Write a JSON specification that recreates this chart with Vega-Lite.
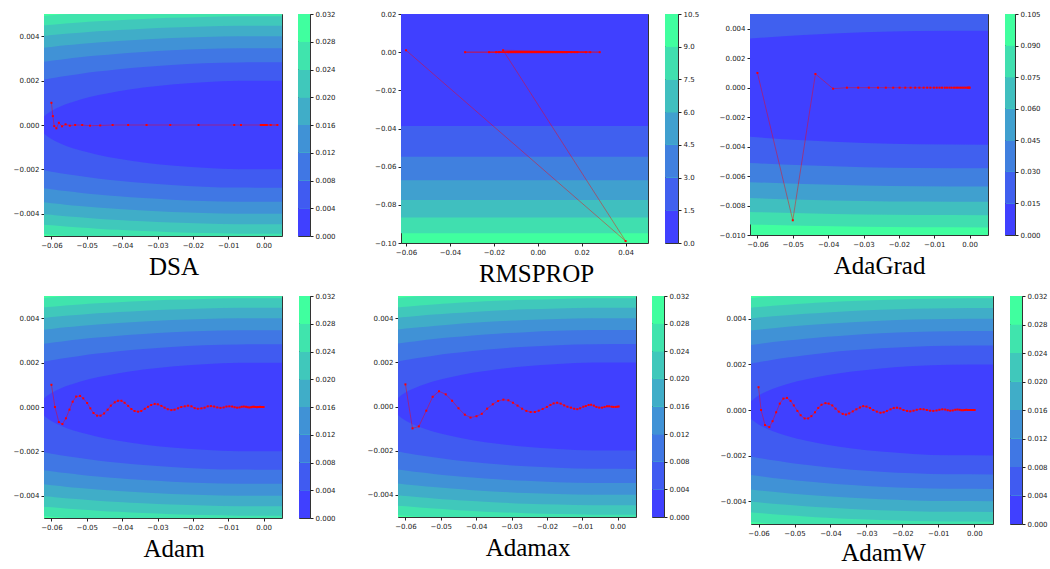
{
"$schema": "https://vega.github.io/schema/vega-lite/v6.json",
"padding": {"left": 12, "top": 9, "right": 0, "bottom": 0},
"background": "white",
"config": {
  "view": {"fill": "#40FF9F", "stroke": "#333333", "strokeWidth": 1},
  "axis": {"labelFont": "DejaVu Sans", "labelFontSize": 7, "labelColor": "#222222", "tickColor": "#222222", "tickSize": 3, "labelPadding": 2, "domain": false, "grid": false, "labelFlush": false, "labelOverlap": false, "labelBound": false},
  "title": {"font": "Liberation Serif", "fontSize": 25, "fontWeight": "normal", "color": "#000000", "offset": 6, "orient": "bottom", "frame": "bounds", "anchor": "middle"},
  "concat": {"spacing": 14}
},
"datasets": {
  "ell": [
    {"x":-0.0621,"o":-1,"y":0.006,"lo":-0.006},{"x":0.0052,"o":-1,"y":0.006,"lo":-0.006},
    {"x":-0.0621,"o":0,"y":0.004914,"lo":-0.004914},{"x":-0.061,"o":0,"y":0.004927,"lo":-0.004927},{"x":-0.059,"o":0,"y":0.004952,"lo":-0.004952},{"x":-0.056,"o":0,"y":0.004986,"lo":-0.004986},{"x":-0.052,"o":0,"y":0.00503,"lo":-0.00503},{"x":-0.047,"o":0,"y":0.005078,"lo":-0.005078},{"x":-0.041,"o":0,"y":0.00513,"lo":-0.00513},{"x":-0.034,"o":0,"y":0.005181,"lo":-0.005181},{"x":-0.026,"o":0,"y":0.005227,"lo":-0.005227},{"x":-0.017,"o":0,"y":0.005264,"lo":-0.005264},{"x":-0.007,"o":0,"y":0.005287,"lo":-0.005287},{"x":0.0052,"o":0,"y":0.005289,"lo":-0.005289},
    {"x":-0.0621,"o":1,"y":0.004488,"lo":-0.004488},{"x":-0.061,"o":1,"y":0.004503,"lo":-0.004503},{"x":-0.059,"o":1,"y":0.00453,"lo":-0.00453},{"x":-0.056,"o":1,"y":0.004568,"lo":-0.004568},{"x":-0.052,"o":1,"y":0.004615,"lo":-0.004615},{"x":-0.047,"o":1,"y":0.004668,"lo":-0.004668},{"x":-0.041,"o":1,"y":0.004724,"lo":-0.004724},{"x":-0.034,"o":1,"y":0.00478,"lo":-0.00478},{"x":-0.026,"o":1,"y":0.00483,"lo":-0.00483},{"x":-0.017,"o":1,"y":0.004869,"lo":-0.004869},{"x":-0.007,"o":1,"y":0.004894,"lo":-0.004894},{"x":0.0052,"o":1,"y":0.004896,"lo":-0.004896},
    {"x":-0.0621,"o":2,"y":0.004018,"lo":-0.004018},{"x":-0.061,"o":2,"y":0.004035,"lo":-0.004035},{"x":-0.059,"o":2,"y":0.004064,"lo":-0.004064},{"x":-0.056,"o":2,"y":0.004107,"lo":-0.004107},{"x":-0.052,"o":2,"y":0.004159,"lo":-0.004159},{"x":-0.047,"o":2,"y":0.004218,"lo":-0.004218},{"x":-0.041,"o":2,"y":0.00428,"lo":-0.00428},{"x":-0.034,"o":2,"y":0.004341,"lo":-0.004341},{"x":-0.026,"o":2,"y":0.004396,"lo":-0.004396},{"x":-0.017,"o":2,"y":0.00444,"lo":-0.00444},{"x":-0.007,"o":2,"y":0.004467,"lo":-0.004467},{"x":0.0052,"o":2,"y":0.004469,"lo":-0.004469},
    {"x":-0.0621,"o":3,"y":0.003485,"lo":-0.003485},{"x":-0.061,"o":3,"y":0.003504,"lo":-0.003504},{"x":-0.059,"o":3,"y":0.003538,"lo":-0.003538},{"x":-0.056,"o":3,"y":0.003587,"lo":-0.003587},{"x":-0.052,"o":3,"y":0.003646,"lo":-0.003646},{"x":-0.047,"o":3,"y":0.003714,"lo":-0.003714},{"x":-0.041,"o":3,"y":0.003784,"lo":-0.003784},{"x":-0.034,"o":3,"y":0.003853,"lo":-0.003853},{"x":-0.026,"o":3,"y":0.003915,"lo":-0.003915},{"x":-0.017,"o":3,"y":0.003964,"lo":-0.003964},{"x":-0.007,"o":3,"y":0.003994,"lo":-0.003994},{"x":0.0052,"o":3,"y":0.003997,"lo":-0.003997},
    {"x":-0.0621,"o":4,"y":0.002854,"lo":-0.002854},{"x":-0.061,"o":4,"y":0.002877,"lo":-0.002877},{"x":-0.059,"o":4,"y":0.002919,"lo":-0.002919},{"x":-0.056,"o":4,"y":0.002977,"lo":-0.002977},{"x":-0.052,"o":4,"y":0.003049,"lo":-0.003049},{"x":-0.047,"o":4,"y":0.003129,"lo":-0.003129},{"x":-0.041,"o":4,"y":0.003212,"lo":-0.003212},{"x":-0.034,"o":4,"y":0.003293,"lo":-0.003293},{"x":-0.026,"o":4,"y":0.003365,"lo":-0.003365},{"x":-0.017,"o":4,"y":0.003422,"lo":-0.003422},{"x":-0.007,"o":4,"y":0.003457,"lo":-0.003457},{"x":0.0052,"o":4,"y":0.00346,"lo":-0.00346},
    {"x":-0.0621,"o":5,"y":0.002036,"lo":-0.002036},{"x":-0.061,"o":5,"y":0.002069,"lo":-0.002069},{"x":-0.059,"o":5,"y":0.002126,"lo":-0.002126},{"x":-0.056,"o":5,"y":0.002205,"lo":-0.002205},{"x":-0.052,"o":5,"y":0.002301,"lo":-0.002301},{"x":-0.047,"o":5,"y":0.002406,"lo":-0.002406},{"x":-0.041,"o":5,"y":0.002514,"lo":-0.002514},{"x":-0.034,"o":5,"y":0.002616,"lo":-0.002616},{"x":-0.026,"o":5,"y":0.002706,"lo":-0.002706},{"x":-0.017,"o":5,"y":0.002777,"lo":-0.002777},{"x":-0.007,"o":5,"y":0.00282,"lo":-0.00282},{"x":0.0052,"o":5,"y":0.002824,"lo":-0.002824},
    {"x":-0.0621,"o":6,"y":0.000379,"lo":-0.000379},{"x":-0.061,"o":6,"y":0.000528,"lo":-0.000528},{"x":-0.059,"o":6,"y":0.00072,"lo":-0.00072},{"x":-0.056,"o":6,"y":0.00093,"lo":-0.00093},{"x":-0.052,"o":6,"y":0.001138,"lo":-0.001138},{"x":-0.047,"o":6,"y":0.001338,"lo":-0.001338},{"x":-0.041,"o":6,"y":0.001523,"lo":-0.001523},{"x":-0.034,"o":6,"y":0.001686,"lo":-0.001686},{"x":-0.026,"o":6,"y":0.001823,"lo":-0.001823},{"x":-0.017,"o":6,"y":0.001926,"lo":-0.001926},{"x":-0.007,"o":6,"y":0.001988,"lo":-0.001988},{"x":0.0052,"o":6,"y":0.001993,"lo":-0.001993}
  ],
  "rmsc": [
    {"x":-0.0623,"o":0,"y":0.09487,"lo":-0.09487},{"x":0.0502,"o":0,"y":0.09487,"lo":-0.09487},
    {"x":-0.0623,"o":1,"y":0.0866,"lo":-0.0866},{"x":0.0502,"o":1,"y":0.0866,"lo":-0.0866},
    {"x":-0.0623,"o":2,"y":0.07746,"lo":-0.07746},{"x":0.0502,"o":2,"y":0.07746,"lo":-0.07746},
    {"x":-0.0623,"o":3,"y":0.06708,"lo":-0.06708},{"x":0.0502,"o":3,"y":0.06708,"lo":-0.06708},
    {"x":-0.0623,"o":4,"y":0.05477,"lo":-0.05477},{"x":0.0502,"o":4,"y":0.05477,"lo":-0.05477},
    {"x":-0.0623,"o":5,"y":0.03873,"lo":-0.03873},{"x":0.0502,"o":5,"y":0.03873,"lo":-0.03873}
  ],
  "adac": [
    {"x":-0.0621,"o":0,"y":0.009281,"lo":-0.009281},{"x":-0.047,"o":0,"y":0.00937,"lo":-0.00937},{"x":-0.03,"o":0,"y":0.009439,"lo":-0.009439},{"x":-0.015,"o":0,"y":0.009475,"lo":-0.009475},{"x":0.0052,"o":0,"y":0.009485,"lo":-0.009485},
    {"x":-0.0621,"o":1,"y":0.008435,"lo":-0.008435},{"x":-0.047,"o":1,"y":0.008532,"lo":-0.008532},{"x":-0.03,"o":1,"y":0.008608,"lo":-0.008608},{"x":-0.015,"o":1,"y":0.008647,"lo":-0.008647},{"x":0.0052,"o":1,"y":0.008659,"lo":-0.008659},
    {"x":-0.0621,"o":2,"y":0.007493,"lo":-0.007493},{"x":-0.047,"o":2,"y":0.007602,"lo":-0.007602},{"x":-0.03,"o":2,"y":0.007688,"lo":-0.007688},{"x":-0.015,"o":2,"y":0.007731,"lo":-0.007731},{"x":0.0052,"o":2,"y":0.007744,"lo":-0.007744},
    {"x":-0.0621,"o":3,"y":0.006414,"lo":-0.006414},{"x":-0.047,"o":3,"y":0.006541,"lo":-0.006541},{"x":-0.03,"o":3,"y":0.006641,"lo":-0.006641},{"x":-0.015,"o":3,"y":0.006691,"lo":-0.006691},{"x":0.0052,"o":3,"y":0.006706,"lo":-0.006706},
    {"x":-0.0621,"o":4,"y":0.005113,"lo":-0.005113},{"x":-0.047,"o":4,"y":0.005272,"lo":-0.005272},{"x":-0.03,"o":4,"y":0.005394,"lo":-0.005394},{"x":-0.015,"o":4,"y":0.005457,"lo":-0.005457},{"x":0.0052,"o":4,"y":0.005475,"lo":-0.005475},
    {"x":-0.0621,"o":5,"y":0.003338,"lo":-0.003338},{"x":-0.047,"o":5,"y":0.003576,"lo":-0.003576},{"x":-0.03,"o":5,"y":0.003755,"lo":-0.003755},{"x":-0.015,"o":5,"y":0.003844,"lo":-0.003844},{"x":0.0052,"o":5,"y":0.00387,"lo":-0.00387}
  ],
  "cb8": [{"lo":0,"hi":0.004,"b":0},{"lo":0.004,"hi":0.008,"b":1},{"lo":0.008,"hi":0.012,"b":2},{"lo":0.012,"hi":0.016,"b":3},{"lo":0.016,"hi":0.02,"b":4},{"lo":0.02,"hi":0.024,"b":5},{"lo":0.024,"hi":0.028,"b":6},{"lo":0.028,"hi":0.032,"b":7}],
  "cbr": [{"lo":0,"hi":1.5,"b":0},{"lo":1.5,"hi":3,"b":1},{"lo":3,"hi":4.5,"b":2},{"lo":4.5,"hi":6,"b":3},{"lo":6,"hi":7.5,"b":4},{"lo":7.5,"hi":9,"b":5},{"lo":9,"hi":10.5,"b":6}],
  "cba": [{"lo":0,"hi":0.015,"b":0},{"lo":0.015,"hi":0.03,"b":1},{"lo":0.03,"hi":0.045,"b":2},{"lo":0.045,"hi":0.06,"b":3},{"lo":0.06,"hi":0.075,"b":4},{"lo":0.075,"hi":0.09,"b":5},{"lo":0.09,"hi":0.105,"b":6}],
  "dsa": [{"x":-0.06,"y":0.001},{"x":-0.0596,"y":0.0004},{"x":-0.0592,"y":-0.00005},{"x":-0.0586,"y":-0.00015},{"x":-0.0579,"y":0.0001},{"x":-0.057,"y":-0.00006},{"x":-0.056,"y":0.00003},{"x":-0.0548,"y":-0.00003},{"x":-0.0533,"y":0},{"x":-0.0513,"y":0},{"x":-0.0491,"y":-0.00003},{"x":-0.0462,"y":-0.00002},{"x":-0.0427,"y":0},{"x":-0.0383,"y":0},{"x":-0.0331,"y":0},{"x":-0.0264,"y":0},{"x":-0.0184,"y":0},{"x":-0.0083,"y":0},{"x":-0.0064,"y":0},{"x":0.0039,"y":0},{"x":0.002,"y":0},{"x":-0.0008,"y":0},{"x":0.0009,"y":0},{"x":-0.0004,"y":0},{"x":0.0005,"y":0},{"x":-0.0002,"y":0},{"x":0.0002,"y":0},{"x":0,"y":0}],
  "rms": [{"x":-0.06,"y":0.001},{"x":0.04,"y":-0.099},{"x":-0.0158,"y":0.001},{"x":0.0282,"y":0},{"x":-0.0331,"y":0},{"x":0.0239,"y":0},{"x":-0.0222,"y":0},{"x":0.0219,"y":0},{"x":-0.019,"y":0},{"x":0.018,"y":0},{"x":-0.0177,"y":0},{"x":0.0168,"y":0},{"x":-0.0137,"y":0},{"x":0.0153,"y":0},{"x":0.0134,"y":0},{"x":-0.013,"y":0},{"x":0.0126,"y":0},{"x":-0.0122,"y":0},{"x":0.0118,"y":0},{"x":-0.0114,"y":0},{"x":0.011,"y":0},{"x":-0.0106,"y":0},{"x":0.0102,"y":0},{"x":-0.0098,"y":0},{"x":0.0094,"y":0},{"x":-0.009,"y":0},{"x":0.0086,"y":0},{"x":-0.0082,"y":0},{"x":0.0078,"y":0},{"x":-0.0074,"y":0},{"x":0.007,"y":0},{"x":-0.0066,"y":0},{"x":0.0062,"y":0},{"x":-0.0058,"y":0},{"x":0.0054,"y":0},{"x":-0.005,"y":0},{"x":0.0046,"y":0},{"x":-0.0042,"y":0},{"x":0.0038,"y":0},{"x":-0.0034,"y":0},{"x":0.003,"y":0},{"x":-0.0026,"y":0},{"x":0.0022,"y":0},{"x":-0.0018,"y":0},{"x":0.0014,"y":0},{"x":-0.001,"y":0},{"x":0.0006,"y":0},{"x":-0.0002,"y":0}],
  "ada": [{"x":-0.06,"y":0.001},{"x":-0.05,"y":-0.009},{"x":-0.0436,"y":0.00093},{"x":-0.0386,"y":-0.00007},{"x":-0.0347,"y":0},{"x":-0.0315,"y":0},{"x":-0.0285,"y":0},{"x":-0.0259,"y":0},{"x":-0.0237,"y":0},{"x":-0.0216,"y":0},{"x":-0.0198,"y":0},{"x":-0.0182,"y":0},{"x":-0.0167,"y":0},{"x":-0.0154,"y":0},{"x":-0.0142,"y":0},{"x":-0.013,"y":0},{"x":-0.012,"y":0},{"x":-0.0111,"y":0},{"x":-0.0101,"y":0},{"x":-0.0093,"y":0},{"x":-0.0085,"y":0},{"x":-0.0078,"y":0},{"x":-0.007,"y":0},{"x":-0.0064,"y":0},{"x":-0.0057,"y":0},{"x":-0.0051,"y":0},{"x":-0.0044,"y":0},{"x":-0.0038,"y":0},{"x":-0.0033,"y":0},{"x":-0.0027,"y":0},{"x":-0.0022,"y":0},{"x":-0.0017,"y":0},{"x":-0.0012,"y":0},{"x":-0.0007,"y":0},{"x":-0.0004,"y":0},{"x":-0.0001,"y":0},{"x":0,"y":0}],
  "adam": [{"x":-0.06,"y":0.001},{"x":-0.059,"y":0},{"x":-0.0579,"y":-0.00068},{"x":-0.0569,"y":-0.00077},{"x":-0.0559,"y":-0.00051},{"x":-0.0549,"y":-0.00012},{"x":-0.054,"y":0.00024},{"x":-0.053,"y":0.00047},{"x":-0.0519,"y":0.0005},{"x":-0.051,"y":0.00039},{"x":-0.0499,"y":0.00018},{"x":-0.049,"y":-0.00006},{"x":-0.0481,"y":-0.00027},{"x":-0.0471,"y":-0.00039},{"x":-0.0461,"y":-0.00039},{"x":-0.0451,"y":-0.00029},{"x":-0.0441,"y":-0.00012},{"x":-0.0432,"y":0.00006},{"x":-0.0421,"y":0.00021},{"x":-0.0412,"y":0.00028},{"x":-0.0402,"y":0.00028},{"x":-0.0393,"y":0.00019},{"x":-0.0383,"y":0.00005},{"x":-0.0374,"y":-0.00009},{"x":-0.0365,"y":-0.00018},{"x":-0.0355,"y":-0.00021},{"x":-0.0346,"y":-0.00018},{"x":-0.0336,"y":-0.00008},{"x":-0.0327,"y":0.00001},{"x":-0.0318,"y":0.00009},{"x":-0.0308,"y":0.00014},{"x":-0.0299,"y":0.00012},{"x":-0.0289,"y":0.00005},{"x":-0.028,"y":-0.00003},{"x":-0.0271,"y":-0.0001},{"x":-0.0261,"y":-0.00014},{"x":-0.0252,"y":-0.00012},{"x":-0.0242,"y":-0.00006},{"x":-0.0233,"y":0},{"x":-0.0223,"y":0.00003},{"x":-0.0214,"y":0.00006},{"x":-0.0204,"y":0.00003},{"x":-0.0195,"y":-0.00005},{"x":-0.0186,"y":-0.00008},{"x":-0.0176,"y":-0.00006},{"x":-0.0167,"y":-0.00003},{"x":-0.0158,"y":0.00003},{"x":-0.0149,"y":0.00004},{"x":-0.014,"y":0.00002},{"x":-0.0131,"y":-0.00002},{"x":-0.0122,"y":-0.00004},{"x":-0.0113,"y":-0.00002},{"x":-0.0105,"y":0.00002},{"x":-0.0097,"y":0.00003},{"x":-0.0089,"y":0.00002},{"x":-0.0082,"y":-0.00001},{"x":-0.0075,"y":-0.00003},{"x":-0.0068,"y":-0.00002},{"x":-0.0062,"y":0.00001},{"x":-0.0056,"y":0.00002},{"x":-0.005,"y":0.00001},{"x":-0.0045,"y":-0.00001},{"x":-0.004,"y":-0.00002},{"x":-0.0035,"y":-0.00001},{"x":-0.0031,"y":0.00001},{"x":-0.0027,"y":0.00001},{"x":-0.0023,"y":0},{"x":-0.0019,"y":-0.00001},{"x":-0.0016,"y":0},{"x":-0.0013,"y":0},{"x":-0.001,"y":0.00001},{"x":-0.0008,"y":0},{"x":-0.0006,"y":0},{"x":-0.0004,"y":0},{"x":-0.0002,"y":0},{"x":0,"y":0}],
  "adamax": [{"x":-0.06,"y":0.001},{"x":-0.058,"y":-0.00099},{"x":-0.0562,"y":-0.0009},{"x":-0.0541,"y":-0.00019},{"x":-0.0523,"y":0.00044},{"x":-0.0505,"y":0.00069},{"x":-0.0486,"y":0.00055},{"x":-0.0468,"y":0.00026},{"x":-0.045,"y":-0.00008},{"x":-0.0432,"y":-0.00037},{"x":-0.0416,"y":-0.0005},{"x":-0.0399,"y":-0.00044},{"x":-0.0384,"y":-0.00033},{"x":-0.0369,"y":-0.0001},{"x":-0.0353,"y":0.0001},{"x":-0.0338,"y":0.00025},{"x":-0.0323,"y":0.00031},{"x":-0.0309,"y":0.00028},{"x":-0.0296,"y":0.00017},{"x":-0.0283,"y":0.00004},{"x":-0.027,"y":-0.0001},{"x":-0.0258,"y":-0.0002},{"x":-0.0246,"y":-0.00025},{"x":-0.0234,"y":-0.00025},{"x":-0.0223,"y":-0.00019},{"x":-0.0212,"y":-0.00011},{"x":-0.02,"y":-0.00002},{"x":-0.019,"y":0.00007},{"x":-0.0181,"y":0.00014},{"x":-0.0171,"y":0.00017},{"x":-0.0161,"y":0.00013},{"x":-0.0151,"y":0.00005},{"x":-0.0142,"y":-0.00001},{"x":-0.0132,"y":-0.00005},{"x":-0.0123,"y":-0.0001},{"x":-0.0114,"y":-0.00012},{"x":-0.0106,"y":-0.00008},{"x":-0.0097,"y":-0.00001},{"x":-0.009,"y":0.00002},{"x":-0.0082,"y":0.00007},{"x":-0.0075,"y":0.00008},{"x":-0.0067,"y":0.00004},{"x":-0.006,"y":-0.00002},{"x":-0.0052,"y":-0.00005},{"x":-0.0044,"y":-0.00005},{"x":-0.0037,"y":-0.00002},{"x":-0.003,"y":0.00001},{"x":-0.0024,"y":0.00001},{"x":-0.0017,"y":-0.00001},{"x":-0.0012,"y":-0.00002},{"x":-0.0006,"y":-0.00002},{"x":-0.0001,"y":-0.00001},{"x":0.0003,"y":0}],
  "adamw": [{"x":-0.06,"y":0.001},{"x":-0.0593,"y":0},{"x":-0.0582,"y":-0.00066},{"x":-0.057,"y":-0.00075},{"x":-0.0561,"y":-0.00049},{"x":-0.0551,"y":-0.0001},{"x":-0.0541,"y":0.00028},{"x":-0.0531,"y":0.0005},{"x":-0.0521,"y":0.00053},{"x":-0.0511,"y":0.0004},{"x":-0.0502,"y":0.0002},{"x":-0.0492,"y":-0.00004},{"x":-0.0483,"y":-0.00023},{"x":-0.0472,"y":-0.00037},{"x":-0.0462,"y":-0.00037},{"x":-0.0453,"y":-0.00027},{"x":-0.0443,"y":-0.0001},{"x":-0.0434,"y":0.00009},{"x":-0.0425,"y":0.00023},{"x":-0.0414,"y":0.0003},{"x":-0.0405,"y":0.00028},{"x":-0.0395,"y":0.0002},{"x":-0.0386,"y":0.00006},{"x":-0.0377,"y":-0.00007},{"x":-0.0366,"y":-0.00017},{"x":-0.0357,"y":-0.0002},{"x":-0.0348,"y":-0.00015},{"x":-0.0338,"y":-0.00006},{"x":-0.0328,"y":0.00003},{"x":-0.0318,"y":0.00011},{"x":-0.0309,"y":0.00017},{"x":-0.03,"y":0.00015},{"x":-0.029,"y":0.00009},{"x":-0.0281,"y":0},{"x":-0.0271,"y":-0.00007},{"x":-0.0261,"y":-0.00012},{"x":-0.0252,"y":-0.0001},{"x":-0.0243,"y":-0.00004},{"x":-0.0233,"y":0.00003},{"x":-0.0224,"y":0.00009},{"x":-0.0215,"y":0.0001},{"x":-0.0206,"y":0.00007},{"x":-0.0197,"y":0},{"x":-0.0187,"y":-0.00004},{"x":-0.0178,"y":-0.00006},{"x":-0.0169,"y":-0.00003},{"x":-0.016,"y":0.00001},{"x":-0.015,"y":0.00004},{"x":-0.0141,"y":0.00003},{"x":-0.0132,"y":0},{"x":-0.0123,"y":-0.00003},{"x":-0.0114,"y":-0.00004},{"x":-0.0105,"y":-0.00002},{"x":-0.0097,"y":0.00001},{"x":-0.0089,"y":0.00003},{"x":-0.0081,"y":0.00002},{"x":-0.0074,"y":-0.00001},{"x":-0.0067,"y":-0.00003},{"x":-0.006,"y":-0.00002},{"x":-0.0053,"y":0.00001},{"x":-0.0047,"y":0.00002},{"x":-0.0041,"y":0.00001},{"x":-0.0036,"y":-0.00001},{"x":-0.0031,"y":-0.00001},{"x":-0.0026,"y":0},{"x":-0.0022,"y":0.00001},{"x":-0.0018,"y":0},{"x":-0.0014,"y":0},{"x":-0.001,"y":0},{"x":-0.0007,"y":0},{"x":-0.0004,"y":0},{"x":-0.0001,"y":0},{"x":0.0001,"y":0}]
},
"resolve": {"scale": {"color": "independent"}},
"vconcat": [
 {"resolve": {"scale": {"color": "independent"}}, "hconcat": [
  {"resolve": {"scale": {"color": "independent"}}, "hconcat": [
   {"title": {"text": "DSA"}, "spacing": 14, "resolve": {"scale": {"color": "independent"}}, "hconcat": [
    {"width": 238, "height": 222,
     "encoding": {
       "x": {"field": "x", "type": "quantitative", "title": null, "scale": {"domain": [-0.0621, 0.0052], "nice": false, "zero": false}, "axis": {"values": [-0.06,-0.05,-0.04,-0.03,-0.02,-0.01,0], "format": ".2f", "labelOverlap": false}},
       "y": {"field": "y", "type": "quantitative", "title": null, "scale": {"domain": [-0.005, 0.005], "nice": false, "zero": false}, "axis": {"values": [-0.004,-0.002,0,0.002,0.004], "format": ".3f", "labelOverlap": false}}},
     "layer": [
     {"data": {"name": "ell"}, "mark": {"type": "area", "clip": true, "interpolate": "monotone"}, "encoding": {
       "y2": {"field": "lo"},
       "color": {"field": "o", "type": "ordinal", "legend": null, "scale": {"domain": [-1,0,1,2,3,4,5,6], "range": ["#40FF9F","#40E4AD","#40C8BB","#40ADC8","#4092D6","#4077E4","#405BF1","#4040FF"]}}}},
     {"data": {"name": "dsa"}, "mark": {"type": "line", "stroke": "red", "strokeWidth": 0.8, "opacity": 0.55, "clip": true}, "encoding": {"order": {"value": null}}},
     {"data": {"name": "dsa"}, "mark": {"type": "point", "shape": "square", "filled": true, "size": 4, "color": "red", "opacity": 1, "clip": true}}
    ]},
    {"width": 12, "height": 222, "data": {"name": "cb8"}, "mark": {"type": "rect"}, "encoding": {
      "y": {"field": "lo", "type": "quantitative", "title": null, "scale": {"domain": [0, 0.032], "nice": false, "zero": false}, "axis": {"orient": "right", "values": [0,0.004,0.008,0.012,0.016,0.02,0.024,0.028,0.032], "format": ".3f", "labelOverlap": false}},
      "y2": {"field": "hi"},
      "color": {"field": "b", "type": "ordinal", "legend": null, "scale": {"domain": [0,1,2,3,4,5,6,7], "range": ["#4040FF","#405BF1","#4077E4","#4092D6","#40ADC8","#40C8BB","#40E4AD","#40FF9F"]}}}}
   ]},
   {"title": {"text": "RMSPROP"}, "spacing": 15, "resolve": {"scale": {"color": "independent"}}, "hconcat": [
    {"width": 247, "height": 229,
     "encoding": {
       "x": {"field": "x", "type": "quantitative", "title": null, "scale": {"domain": [-0.0623, 0.0502], "nice": false, "zero": false}, "axis": {"values": [-0.06,-0.04,-0.02,0,0.02,0.04], "format": ".2f", "labelOverlap": false}},
       "y": {"field": "y", "type": "quantitative", "title": null, "scale": {"domain": [-0.1, 0.02], "nice": false, "zero": false}, "axis": {"values": [-0.1,-0.08,-0.06,-0.04,-0.02,0,0.02], "format": ".2f", "labelOverlap": false}}},
     "layer": [
     {"data": {"name": "rmsc"}, "mark": {"type": "area", "clip": true}, "encoding": {
       "y2": {"field": "lo"},
       "color": {"field": "o", "type": "ordinal", "legend": null, "scale": {"domain": [0,1,2,3,4,5], "range": ["#40DFAF","#40BFBF","#40A0CF","#4080DF","#4060EF","#4040FF"]}}}},
     {"data": {"name": "rms"}, "mark": {"type": "line", "stroke": "red", "strokeWidth": 0.8, "opacity": 0.55, "clip": true}, "encoding": {"order": {"value": null}}},
     {"data": {"name": "rms"}, "mark": {"type": "point", "shape": "square", "filled": true, "size": 4, "color": "red", "opacity": 1, "clip": true}}
    ]},
    {"width": 13, "height": 229, "data": {"name": "cbr"}, "mark": {"type": "rect"}, "encoding": {
      "y": {"field": "lo", "type": "quantitative", "title": null, "scale": {"domain": [0, 10.5], "nice": false, "zero": false}, "axis": {"orient": "right", "values": [0,1.5,3,4.5,6,7.5,9,10.5], "format": ".1f", "labelOverlap": false}},
      "y2": {"field": "hi"},
      "color": {"field": "b", "type": "ordinal", "legend": null, "scale": {"domain": [0,1,2,3,4,5,6], "range": ["#4040FF","#4060EF","#4080DF","#40A0CF","#40BFBF","#40DFAF","#40FF9F"]}}}}
   ]}
  ], "spacing": 38},
  {"title": {"text": "AdaGrad"}, "spacing": 15, "resolve": {"scale": {"color": "independent"}}, "hconcat": [
    {"width": 238, "height": 221,
     "encoding": {
       "x": {"field": "x", "type": "quantitative", "title": null, "scale": {"domain": [-0.0621, 0.0052], "nice": false, "zero": false}, "axis": {"values": [-0.06,-0.05,-0.04,-0.03,-0.02,-0.01,0], "format": ".2f", "labelOverlap": false}},
       "y": {"field": "y", "type": "quantitative", "title": null, "scale": {"domain": [-0.01, 0.005], "nice": false, "zero": false}, "axis": {"values": [-0.01,-0.008,-0.006,-0.004,-0.002,0,0.002,0.004], "format": ".3f", "labelOverlap": false}}},
     "layer": [
     {"data": {"name": "adac"}, "mark": {"type": "area", "clip": true, "interpolate": "monotone"}, "encoding": {
       "y2": {"field": "lo"},
       "color": {"field": "o", "type": "ordinal", "legend": null, "scale": {"domain": [0,1,2,3,4,5], "range": ["#40DFAF","#40BFBF","#40A0CF","#4080DF","#4060EF","#4040FF"]}}}},
     {"data": {"name": "ada"}, "mark": {"type": "line", "stroke": "red", "strokeWidth": 0.8, "opacity": 0.55, "clip": true}, "encoding": {"order": {"value": null}}},
     {"data": {"name": "ada"}, "mark": {"type": "point", "shape": "square", "filled": true, "size": 4, "color": "red", "opacity": 1, "clip": true}}
    ]},
    {"width": 10, "height": 221, "data": {"name": "cba"}, "mark": {"type": "rect"}, "encoding": {
      "y": {"field": "lo", "type": "quantitative", "title": null, "scale": {"domain": [0, 0.105], "nice": false, "zero": false}, "axis": {"orient": "right", "values": [0,0.015,0.03,0.045,0.06,0.075,0.09,0.105], "format": ".3f", "labelOverlap": false}},
      "y2": {"field": "hi"},
      "color": {"field": "b", "type": "ordinal", "legend": null, "scale": {"domain": [0,1,2,3,4,5,6], "range": ["#4040FF","#4060EF","#4080DF","#40A0CF","#40BFBF","#40DFAF","#40FF9F"]}}}}
  ]}
 ], "spacing": 18},
 {"resolve": {"scale": {"color": "independent"}}, "hconcat": [
  {"resolve": {"scale": {"color": "independent"}}, "hconcat": [
   {"title": {"text": "Adam"}, "spacing": 15, "resolve": {"scale": {"color": "independent"}}, "hconcat": [
    {"width": 238, "height": 222,
     "encoding": {
       "x": {"field": "x", "type": "quantitative", "title": null, "scale": {"domain": [-0.0621, 0.0052], "nice": false, "zero": false}, "axis": {"values": [-0.06,-0.05,-0.04,-0.03,-0.02,-0.01,0], "format": ".2f", "labelOverlap": false}},
       "y": {"field": "y", "type": "quantitative", "title": null, "scale": {"domain": [-0.005, 0.005], "nice": false, "zero": false}, "axis": {"values": [-0.004,-0.002,0,0.002,0.004], "format": ".3f", "labelOverlap": false}}},
     "layer": [
     {"data": {"name": "ell"}, "mark": {"type": "area", "clip": true, "interpolate": "monotone"}, "encoding": {
       "y2": {"field": "lo"},
       "color": {"field": "o", "type": "ordinal", "legend": null, "scale": {"domain": [-1,0,1,2,3,4,5,6], "range": ["#40FF9F","#40E4AD","#40C8BB","#40ADC8","#4092D6","#4077E4","#405BF1","#4040FF"]}}}},
     {"data": {"name": "adam"}, "mark": {"type": "line", "stroke": "red", "strokeWidth": 0.8, "opacity": 0.55, "clip": true}, "encoding": {"order": {"value": null}}},
     {"data": {"name": "adam"}, "mark": {"type": "point", "shape": "square", "filled": true, "size": 4, "color": "red", "opacity": 1, "clip": true}}
    ]},
    {"width": 11, "height": 222, "data": {"name": "cb8"}, "mark": {"type": "rect"}, "encoding": {
      "y": {"field": "lo", "type": "quantitative", "title": null, "scale": {"domain": [0, 0.032], "nice": false, "zero": false}, "axis": {"orient": "right", "values": [0,0.004,0.008,0.012,0.016,0.02,0.024,0.028,0.032], "format": ".3f", "labelOverlap": false}},
      "y2": {"field": "hi"},
      "color": {"field": "b", "type": "ordinal", "legend": null, "scale": {"domain": [0,1,2,3,4,5,6,7], "range": ["#4040FF","#405BF1","#4077E4","#4092D6","#40ADC8","#40C8BB","#40E4AD","#40FF9F"]}}}}
   ]},
   {"title": {"text": "Adamax"}, "spacing": 14, "resolve": {"scale": {"color": "independent"}}, "hconcat": [
    {"width": 238, "height": 221,
     "encoding": {
       "x": {"field": "x", "type": "quantitative", "title": null, "scale": {"domain": [-0.0621, 0.0052], "nice": false, "zero": false}, "axis": {"values": [-0.06,-0.05,-0.04,-0.03,-0.02,-0.01,0], "format": ".2f", "labelOverlap": false}},
       "y": {"field": "y", "type": "quantitative", "title": null, "scale": {"domain": [-0.005, 0.005], "nice": false, "zero": false}, "axis": {"values": [-0.004,-0.002,0,0.002,0.004], "format": ".3f", "labelOverlap": false}}},
     "layer": [
     {"data": {"name": "ell"}, "mark": {"type": "area", "clip": true, "interpolate": "monotone"}, "encoding": {
       "y2": {"field": "lo"},
       "color": {"field": "o", "type": "ordinal", "legend": null, "scale": {"domain": [-1,0,1,2,3,4,5,6], "range": ["#40FF9F","#40E4AD","#40C8BB","#40ADC8","#4092D6","#4077E4","#405BF1","#4040FF"]}}}},
     {"data": {"name": "adamax"}, "mark": {"type": "line", "stroke": "red", "strokeWidth": 0.8, "opacity": 0.55, "clip": true}, "encoding": {"order": {"value": null}}},
     {"data": {"name": "adamax"}, "mark": {"type": "point", "shape": "square", "filled": true, "size": 4, "color": "red", "opacity": 1, "clip": true}}
    ]},
    {"width": 12, "height": 221, "data": {"name": "cb8"}, "mark": {"type": "rect"}, "encoding": {
      "y": {"field": "lo", "type": "quantitative", "title": null, "scale": {"domain": [0, 0.032], "nice": false, "zero": false}, "axis": {"orient": "right", "values": [0,0.004,0.008,0.012,0.016,0.02,0.024,0.028,0.032], "format": ".3f", "labelOverlap": false}},
      "y2": {"field": "hi"},
      "color": {"field": "b", "type": "ordinal", "legend": null, "scale": {"domain": [0,1,2,3,4,5,6,7], "range": ["#4040FF","#405BF1","#4077E4","#4092D6","#40ADC8","#40C8BB","#40E4AD","#40FF9F"]}}}}
   ]}
  ], "spacing": 30},
  {"title": {"text": "AdamW", "offset": 4}, "spacing": 15, "resolve": {"scale": {"color": "independent"}}, "hconcat": [
    {"width": 242, "height": 228,
     "encoding": {
       "x": {"field": "x", "type": "quantitative", "title": null, "scale": {"domain": [-0.0621, 0.0052], "nice": false, "zero": false}, "axis": {"values": [-0.06,-0.05,-0.04,-0.03,-0.02,-0.01,0], "format": ".2f", "labelOverlap": false}},
       "y": {"field": "y", "type": "quantitative", "title": null, "scale": {"domain": [-0.005, 0.005], "nice": false, "zero": false}, "axis": {"values": [-0.004,-0.002,0,0.002,0.004], "format": ".3f", "labelOverlap": false}}},
     "layer": [
     {"data": {"name": "ell"}, "mark": {"type": "area", "clip": true, "interpolate": "monotone"}, "encoding": {
       "y2": {"field": "lo"},
       "color": {"field": "o", "type": "ordinal", "legend": null, "scale": {"domain": [-1,0,1,2,3,4,5,6], "range": ["#40FF9F","#40E4AD","#40C8BB","#40ADC8","#4092D6","#4077E4","#405BF1","#4040FF"]}}}},
     {"data": {"name": "adamw"}, "mark": {"type": "line", "stroke": "red", "strokeWidth": 0.8, "opacity": 0.55, "clip": true}, "encoding": {"order": {"value": null}}},
     {"data": {"name": "adamw"}, "mark": {"type": "point", "shape": "square", "filled": true, "size": 4, "color": "red", "opacity": 1, "clip": true}}
    ]},
    {"width": 12, "height": 228, "data": {"name": "cb8"}, "mark": {"type": "rect"}, "encoding": {
      "y": {"field": "lo", "type": "quantitative", "title": null, "scale": {"domain": [0, 0.032], "nice": false, "zero": false}, "axis": {"orient": "right", "values": [0,0.004,0.008,0.012,0.016,0.02,0.024,0.028,0.032], "format": ".3f", "labelOverlap": false}},
      "y2": {"field": "hi"},
      "color": {"field": "b", "type": "ordinal", "legend": null, "scale": {"domain": [0,1,2,3,4,5,6,7], "range": ["#4040FF","#405BF1","#4077E4","#4092D6","#40ADC8","#40C8BB","#40E4AD","#40FF9F"]}}}}
  ]}
 ], "spacing": 29}
], "spacing": 4
}
